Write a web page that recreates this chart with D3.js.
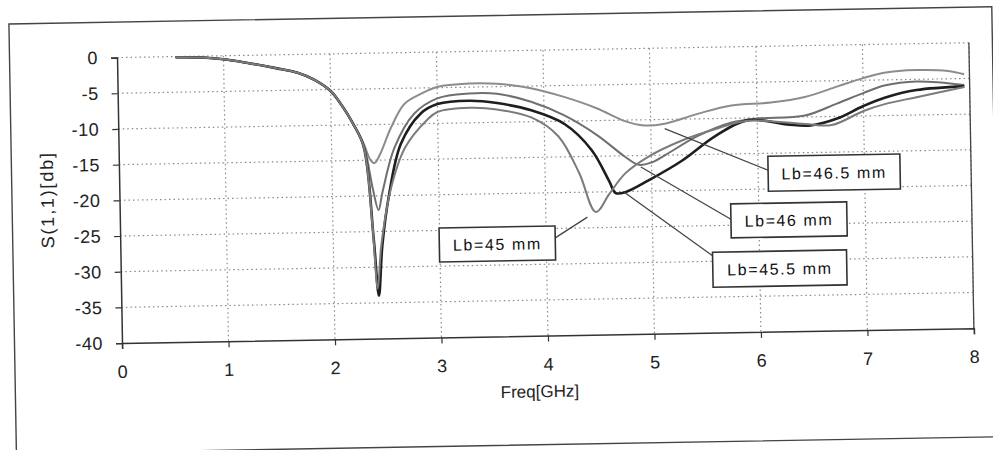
<!DOCTYPE html>
<html>
<head>
<meta charset="utf-8">
<script src="https://cdn.jsdelivr.net/npm/d3@7"></script>
<style>
  body { margin: 0; background: #fff; }
  svg { display: block; }
  .tick text { font-family: "Liberation Sans", Arial, sans-serif; font-size: 18px; fill: #222; }
</style>
</head>
<body>
<svg id="chart" width="993" height="450"></svg>
<script>
/** Tick values for both axes */
var xTicks = [0, 1, 2, 3, 4, 5, 6, 7, 8];
var yTicks = [0, -5, -10, -15, -20, -25, -30, -35, -40];

/** Part of the response that all four curves share (below the first dip) */
var sharedFreq = [0.55, 0.8, 1.0, 1.2, 1.5, 1.7, 1.85, 2.0, 2.1, 2.2];
var sharedDb   = [-0.1, -0.2, -0.5, -1.0, -1.9, -2.6, -3.6, -5.2, -7.2, -9.7];

/** Lb = 46.5 mm */
var freq465 = [2.3, 2.36, 2.40, 2.45, 2.56, 2.69, 2.85, 3.0, 3.3, 3.56, 3.88, 4.19, 4.5, 4.75, 4.94, 5.13, 5.44, 5.76, 6.13, 6.45, 6.76, 7.0, 7.2, 7.5, 7.8, 7.95];
var db465   = [-12.6, -14.9, -15.4, -14.3, -10.5, -7.2, -5.8, -4.9, -4.5, -4.6, -5.3, -6.6, -8.3, -10.1, -10.8, -10.6, -9.3, -8.2, -7.9, -7.2, -5.8, -4.7, -4.0, -3.7, -3.9, -4.4];

/** Lb = 46 mm */
var freq46 = [2.3, 2.38, 2.43, 2.47, 2.59, 2.78, 3.0, 3.3, 3.56, 3.88, 4.19, 4.5, 4.75, 4.88, 5.0, 5.13, 5.44, 5.76, 6.0, 6.45, 6.75, 7.0, 7.2, 7.5, 7.95];
var db46   = [-12.8, -19.0, -22.0, -19.5, -13.3, -8.6, -6.5, -5.9, -6.0, -7.2, -9.2, -12.1, -15.1, -16.3, -16.0, -15.0, -12.4, -10.6, -10.1, -9.8, -8.2, -6.8, -5.8, -5.3, -5.9];

/** Lb = 45.5 mm (the black curve) */
var freq455 = [2.3, 2.38, 2.42, 2.46, 2.53, 2.65, 2.84, 3.0, 3.3, 3.56, 3.88, 4.19, 4.44, 4.6, 4.66, 4.75, 4.97, 5.29, 5.6, 5.91, 6.28, 6.5, 6.75, 7.0, 7.2, 7.5, 7.95];
var db455   = [-13.0, -26.0, -34.0, -27.0, -20.0, -12.8, -8.6, -7.3, -6.9, -7.3, -8.4, -10.4, -14.1, -18.5, -20.2, -20.1, -18.5, -15.8, -12.5, -10.3, -11.0, -11.2, -10.3, -8.6, -7.5, -6.5, -6.1];

/** Lb = 45 mm */
var freq45 = [2.3, 2.37, 2.41, 2.45, 2.55, 2.69, 2.9, 3.0, 3.3, 3.56, 3.88, 4.13, 4.32, 4.47, 4.6, 4.75, 4.97, 5.29, 5.6, 5.91, 6.45, 6.7, 7.0, 7.2, 7.5, 7.95];
var db45   = [-13.0, -24.0, -33.0, -27.0, -19.0, -13.3, -9.5, -8.4, -7.9, -8.2, -9.4, -12.1, -17.3, -22.8, -20.3, -17.5, -15.2, -13.0, -11.5, -10.4, -11.0, -11.2, -9.3, -8.4, -7.5, -6.2];

/** Callout texts and the point (freq, dB) each arrow points at */
var labelText = ["Lb=46.5 mm", "Lb=46 mm", "Lb=45.5 mm", "Lb=45 mm"];
var labelTipFreq = [5.13, 4.9, 4.74, 4.39];
var labelTipDb = [-11.3, -16.6, -20.1, -23.5];

/** Sizes of the plot area */
var plotLeft = 120, plotRight = 972, plotTop = 51, plotBottom = 336.5;

/** Callout boxes (pixels) and where the arrow leaves the box */
var boxes = [
    {x: 769, y: 161, w: 132, h: 35, ax: 0, ay: 0.4},
    {x: 731, y: 208, w: 116, h: 34, ax: 0, ay: 0.45},
    {x: 712, y: 256, w: 134, h: 35, ax: 0, ay: 0.1},
    {x: 439, y: 227, w: 116, h: 34, ax: 1, ay: 0.35}
];

var seriesStyle = [
    {color: "#8c8c8c", width: 2},
    {color: "#6f6f6f", width: 2},
    {color: "#1e1e1e", width: 2.6},
    {color: "#7b7b7b", width: 2}
];

var xScale = d3.scaleLinear().domain([0, 8]).range([plotLeft, plotRight]);
var yScale = d3.scaleLinear().domain([-40, 0]).range([plotBottom, plotTop]);

function buildSeries(freq, db) {
    var pts = sharedFreq.map(function (f, i) { return [f, sharedDb[i]]; });
    freq.forEach(function (f, i) { pts.push([f, db[i]]); });
    return pts;
}

var series = [
    buildSeries(freq465, db465),
    buildSeries(freq46, db46),
    buildSeries(freq455, db455),
    buildSeries(freq45, db45)
];

drawChart();

function drawChart() {
    var svg = d3.select("#chart");

    // the scan is tilted about one degree, so everything sits in a rotated group
    var g = svg.append("g").attr("transform", "rotate(-1, 496, 225)");

    // outer frame
    g.append("rect")
        .attr("x", 12.5).attr("y", 15.5)
        .attr("width", 983).attr("height", 430)
        .attr("fill", "none").attr("stroke", "#444").attr("stroke-width", 1.4);

    // dotted grid
    g.append("g").selectAll("line").data(xTicks.slice(1))
        .enter().append("line")
        .attr("x1", function (d) { return xScale(d); })
        .attr("x2", function (d) { return xScale(d); })
        .attr("y1", plotTop).attr("y2", plotBottom)
        .attr("stroke", "#8a8a8a").attr("stroke-width", 1.2)
        .attr("stroke-dasharray", "1.5,3");

    g.append("g").selectAll("line").data(yTicks.slice(0, -1))
        .enter().append("line")
        .attr("x1", plotLeft).attr("x2", plotRight)
        .attr("y1", function (d) { return yScale(d); })
        .attr("y2", function (d) { return yScale(d); })
        .attr("stroke", "#8a8a8a").attr("stroke-width", 1.2)
        .attr("stroke-dasharray", "1.5,3");

    // right border is solid
    g.append("line")
        .attr("x1", plotRight).attr("x2", plotRight)
        .attr("y1", plotTop).attr("y2", plotBottom)
        .attr("stroke", "#444").attr("stroke-width", 1.3);

    // axes, plain hyphen for the minus sign like the original
    var fmt = function (d) { return String(d); };
    var xAxis = d3.axisBottom(xScale).tickValues(xTicks).tickSize(6).tickPadding(16).tickFormat(fmt);
    var yAxis = d3.axisLeft(yScale).tickValues(yTicks).tickSize(6).tickPadding(13).tickFormat(fmt);

    var gx = g.append("g").attr("transform", "translate(0," + plotBottom + ")").call(xAxis);
    var gy = g.append("g").attr("transform", "translate(" + plotLeft + ",0)").call(yAxis);
    [gx, gy].forEach(function (a) {
        a.select(".domain").attr("stroke", "#333").attr("stroke-width", 1.5);
        a.selectAll(".tick line").attr("stroke", "#333").attr("stroke-width", 1.2);
        a.selectAll(".tick text").attr("letter-spacing", "0.5px");
    });

    // axis titles
    g.append("text")
        .attr("transform", "translate(54,192) rotate(-90)")
        .attr("text-anchor", "middle")
        .attr("font-family", "Liberation Sans, Arial, sans-serif")
        .attr("font-size", 18).attr("letter-spacing", "1.8px").attr("fill", "#222")
        .text("S(1,1)[db]");

    g.append("text")
        .attr("x", 537).attr("y", 398)
        .attr("text-anchor", "middle")
        .attr("font-family", "Liberation Sans, Arial, sans-serif")
        .attr("font-size", 17).attr("fill", "#222")
        .text("Freq[GHz]");

    // curves
    var line = d3.line()
        .x(function (d) { return xScale(d[0]); })
        .y(function (d) { return yScale(d[1]); })
        .curve(d3.curveCatmullRom.alpha(0.5));

    g.append("g").selectAll("path").data(series)
        .enter().append("path")
        .attr("d", line)
        .attr("fill", "none")
        .attr("stroke", function (d, i) { return seriesStyle[i].color; })
        .attr("stroke-width", function (d, i) { return seriesStyle[i].width; })
        .attr("stroke-linejoin", "round");

    // callouts
    var callout = g.append("g").selectAll("g").data(labelText)
        .enter().append("g");

    callout.append("line")
        .attr("x1", function (d, i) { return boxes[i].x + boxes[i].ax * boxes[i].w; })
        .attr("y1", function (d, i) { return boxes[i].y + boxes[i].ay * boxes[i].h; })
        .attr("x2", function (d, i) { return xScale(labelTipFreq[i]); })
        .attr("y2", function (d, i) { return yScale(labelTipDb[i]); })
        .attr("stroke", "#444").attr("stroke-width", 1.3);

    callout.append("rect")
        .attr("x", function (d, i) { return boxes[i].x; })
        .attr("y", function (d, i) { return boxes[i].y; })
        .attr("width", function (d, i) { return boxes[i].w; })
        .attr("height", function (d, i) { return boxes[i].h; })
        .attr("fill", "#fff").attr("stroke", "#333").attr("stroke-width", 1.6);

    callout.append("text")
        .attr("x", function (d, i) { return boxes[i].x + boxes[i].w / 2; })
        .attr("y", function (d, i) { return boxes[i].y + boxes[i].h / 2 + 6; })
        .attr("text-anchor", "middle")
        .attr("font-family", "Liberation Sans, Arial, sans-serif")
        .attr("font-size", 16).attr("letter-spacing", "1.6px").attr("fill", "#111")
        .text(function (d) { return d; });
}
</script>
</body>
</html>
